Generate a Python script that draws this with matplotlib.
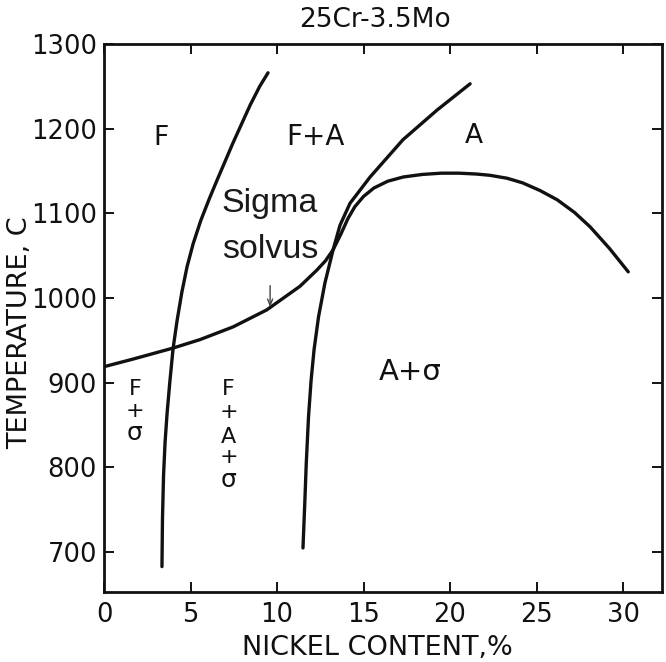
import matplotlib
matplotlib.use("Agg")
import matplotlib.pyplot as plt

plt.rcParams['font.family'] = ['DejaVu Sans']

# ---- data ----
title = "25Cr-3.5Mo"
x_label = "NICKEL CONTENT,%"
y_label = "TEMPERATURE, C"
x_ticks = [0, 5, 10, 15, 20, 25, 30]
y_ticks = [700, 800, 900, 1000, 1100, 1200, 1300]

# F / F+A boundary
ferrite_x = [3.35, 3.38, 3.44, 3.53, 3.65, 3.80, 3.99, 4.22, 4.50, 4.80, 5.15, 5.60, 6.10, 6.55, 7.45, 8.45, 9.00, 9.48]
ferrite_y = [683, 740, 790, 830, 865, 900, 940, 973, 1007, 1037, 1064, 1092, 1118, 1140, 1183, 1228, 1250, 1266]

# F+A / A boundary
austenite_x = [11.50, 11.61, 11.69, 11.82, 11.97, 12.14, 12.40, 12.77, 13.24, 13.64, 14.22, 15.38, 17.28, 19.25, 21.16]
austenite_y = [705, 761, 805, 860, 903, 939, 978, 1018, 1057, 1086, 1112, 1143, 1187, 1222, 1253]

# sigma solvus
sigma_x = [0.0, 1.68, 3.99, 5.55, 7.46, 9.40, 11.33, 12.30, 12.80, 13.24, 13.70, 14.10, 14.50, 15.00,
           15.60, 16.40, 17.30, 18.40, 19.50, 20.50, 21.50, 22.30, 23.30, 24.20, 25.20, 26.20,
           27.20, 28.10, 29.20, 30.30]
sigma_y = [919, 928, 941, 951, 966, 986, 1014, 1033, 1044, 1057, 1076, 1094, 1108, 1120,
           1130, 1138, 1143, 1146, 1147.5, 1147.5, 1146.5, 1145, 1141.5, 1136, 1127, 1116,
           1101, 1084, 1059, 1031]

# arrow marking the sigma solvus
arrow_x = 9.6
arrow_y_from = 1018
arrow_y_to = 986

# region labels: (text, x, baseline y, size)
region_labels = [
    ("F", 3.32, 1181, 19),
    ("F+A", 12.2, 1181, 20),
    ("A", 21.4, 1183, 19),
    ("A+σ", 17.7, 903, 21),
]
stack_f_sigma = [("F", 1.79, 885.5), ("+", 1.79, 859.5), ("σ", 1.79, 832.3)]
stack_f_a_sigma = [("F", 7.2, 885.5), ("+", 7.2, 858.3), ("A", 7.2, 828.8),
                   ("+", 7.2, 805.1), ("σ", 7.2, 776.8)]
solvus_lines = [("Sigma", 9.6, 1102), ("solvus", 9.6, 1047)]

# ---- figure ----
fig = plt.figure(figsize=(6.66, 6.62), dpi=100)
ax = fig.add_axes([104/666, 1 - 592/662, (662-104)/666, (592-44)/662])
ink = '#111111'

for xs, ys in [(ferrite_x, ferrite_y), (austenite_x, austenite_y), (sigma_x, sigma_y)]:
    ax.plot(xs, ys, color=ink, lw=2.4, solid_joinstyle='round', solid_capstyle='round')

ax.annotate("", xy=(arrow_x, arrow_y_to), xytext=(arrow_x, arrow_y_from),
            arrowprops=dict(arrowstyle='->,head_length=0.45,head_width=0.18',
                            color='#444444', lw=1.0))

for t, x, y, s in region_labels:
    ax.text(x, y, t, ha='center', va='baseline', fontsize=s, color=ink)
for t, x, y in stack_f_sigma + stack_f_a_sigma:
    ax.text(x, y, t, ha='center', va='baseline', fontsize=16 if t != 'σ' else 18, color=ink)
for t, x, y in solvus_lines:
    ax.text(x, y, t, ha='center', va='baseline', fontsize=24.5,
            family=['Liberation Sans', 'DejaVu Sans'], color='#1a1a1a')

ax.set_xlim(0, 32.25)
ax.set_ylim(653, 1300)
ax.set_xticks(x_ticks)
ax.set_yticks(y_ticks)
ax.set_xticklabels([str(v) for v in x_ticks])
ax.set_yticklabels([str(v) for v in y_ticks])
ax.tick_params(direction='in', length=7.5, width=1.4, labelsize=18.5, colors=ink,
               top=True, right=True)
ax.tick_params(axis='x', pad=7)
ax.tick_params(axis='y', pad=5)
for sp in ax.spines.values():
    sp.set_linewidth(2.0)
    sp.set_color(ink)

fig.text(375/666, 1 - 20/662, title, ha='center', va='center', fontsize=19, color=ink)
fig.text(377/666, 7/662, x_label, ha='center', va='baseline', fontsize=19.5, color=ink)
fig.text(20/666, 1 - 333/662, y_label, ha='center', va='center', rotation=90, fontsize=19.5, color=ink)

fig.savefig("out.png", dpi=100, facecolor='white')
